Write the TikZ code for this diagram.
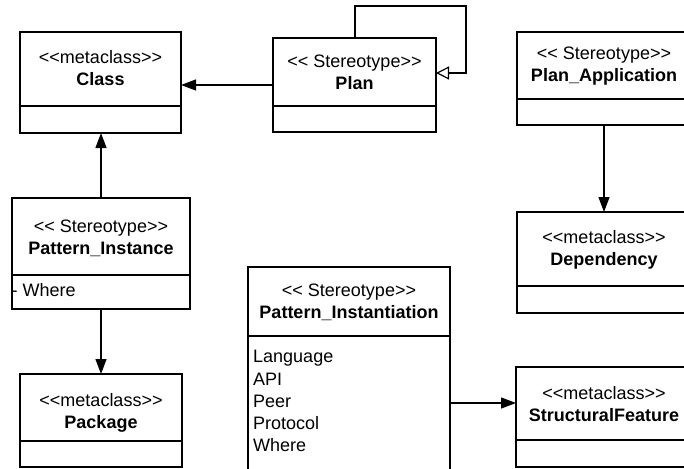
\documentclass[tikz,border=0pt]{standalone}
\usepackage{fontspec}
\setmainfont{Liberation Sans}
\usetikzlibrary{arrows.meta}
\begin{document}
\begin{tikzpicture}[x=1pt,y=-1pt,
  box/.style={draw,line width=1.2pt,rectangle,inner sep=0pt,outer sep=0pt},
  lbl/.style={align=center,font=\fontsize{18}{22}\selectfont,inner sep=0pt},
  attr/.style={anchor=base west,font=\fontsize{18}{22}\selectfont,inner sep=0pt},
  conn/.style={line width=1.2pt},
  assoc/.style={conn,-{Triangle[length=15pt,width=11pt]}},
  gen/.style={conn,-{Triangle[open,length=13pt,width=13pt,fill=white]}}]
\clip (0,0) rectangle (684,468);
\fill[white] (0,0) rectangle (684,468);
% boxes
\node[box,minimum width=161pt,minimum height=101pt] (cls) at (100.5,82.5) {};
\draw[conn] (cls.west |- 0,106) -- (cls.east |- 0,106);
\node[lbl] (clsT) at (100.5,68.5) {<{}<metaclass>{}>\\\textbf{Class}};

\node[box,minimum width=163pt,minimum height=94pt] (plan) at (354.5,85) {};
\draw[conn] (plan.west |- 0,106) -- (plan.east |- 0,106);
\node[lbl] (planT) at (354.5,72) {<{}< Stereotype>{}>\\\textbf{Plan}};

\node[box,minimum width=174pt,minimum height=93pt] (papp) at (604,78.5) {};
\draw[conn] (papp.west |- 0,99) -- (papp.east |- 0,99);
\node[lbl] (pappT) at (604,66) {<{}< Stereotype>{}>\\\textbf{Plan\_Application}};

\node[box,minimum width=174pt,minimum height=101pt] (dep) at (604,262.5) {};
\draw[conn] (dep.west |- 0,286) -- (dep.east |- 0,286);
\node[lbl] (depT) at (604,250) {<{}<metaclass>{}>\\\textbf{Dependency}};

\node[box,minimum width=178pt,minimum height=111pt] (pi) at (101,253.5) {};
\draw[conn] (pi.west |- 0,275) -- (pi.east |- 0,275);
\node[lbl] (piT) at (101,238) {<{}< Stereotype>{}>\\\textbf{Pattern\_Instance}};
\node[attr] (piA) at (11.5,296.7) {- Where};

\node[box,minimum width=162pt,minimum height=93pt] (pkg) at (101,420.5) {};
\draw[conn] (pkg.west |- 0,441) -- (pkg.east |- 0,441);
\node[lbl] (pkgT) at (101,413) {<{}<metaclass>{}>\\\textbf{Package}};

\node[box,minimum width=176pt,minimum height=100pt] (sf) at (604,417) {};
\draw[conn] (sf.west |- 0,440) -- (sf.east |- 0,440);
\node[lbl] (sfT) at (604,404) {<{}<metaclass>{}>\\\textbf{StructuralFeature}};

\node[box,minimum width=202pt,minimum height=213pt] (pinst) at (349,373.5) {};
\draw[conn] (pinst.west |- 0,336) -- (pinst.east |- 0,336);
\node[lbl] (pinstT) at (349,302) {<{}< Stereotype>{}>\\\textbf{Pattern\_Instantiation}};
\node[attr] (a1) at (253,362.7) {Language};
\node[attr] (a2) at (253,385) {API};
\node[attr] (a3) at (253,407.3) {Peer};
\node[attr] (a4) at (253,429.6) {Protocol};
\node[attr] (a5) at (253,451.9) {Where};

% connectors
\draw[assoc] (plan.west) -- (plan.west -| cls.east);
\draw[assoc] (pi.north) -- (pi.north |- cls.south);
\draw[assoc] (pi.south) -- (pi.south |- pkg.north);
\draw[assoc] (papp.south) -- (papp.south |- dep.north);
\draw[assoc] (pinst.east |- 0,403) -- (sf.west |- 0,403);
\draw[gen] (plan.north -| 355,0) -- (355,6) -| (466,73) -- (plan.east |- 0,73);
\end{tikzpicture}
\end{document}
